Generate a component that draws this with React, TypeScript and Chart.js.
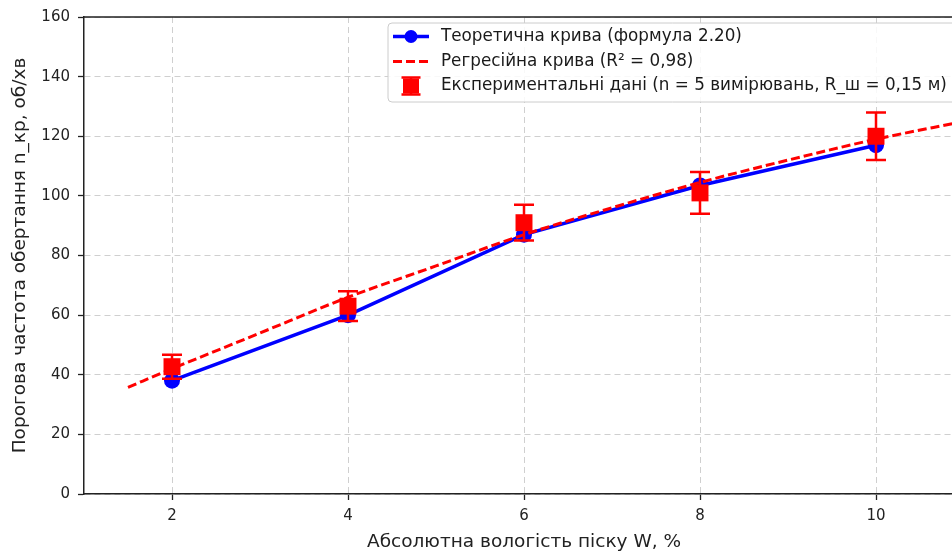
import React, { useEffect, useRef } from "react";
import { Chart, registerables } from "chart.js";

Chart.register(...registerables);

// ---- data ----
const moisture = [2, 4, 6, 8, 10];
const theoretical = [38, 60, 87, 103.5, 117];
const experimental = [42.7, 63, 91, 101, 120];
const experimentalErr = [4, 5, 6, 7, 8];
const regressionX = [1.5, 2, 3, 4, 5, 6, 7, 8, 9, 10, 11];
const regressionY = [35.8, 42, 54, 66, 76.5, 87, 96, 104.5, 112, 119, 125];
const xTicks = [2, 4, 6, 8, 10];
const yTicks = [0, 20, 40, 60, 80, 100, 120, 140, 160];

const labelTheory = "Теоретична крива (формула 2.20)";
const labelRegression = "Регресійна крива (R² = 0,98)";
const labelExperiment = "Експериментальні дані (n = 5 вимірювань, R_ш = 0,15 м)";
const xTitle = "Абсолютна вологість піску W, %";
const yTitle = "Порогова частота обертання n_кр, об/хв";

const FONT = "'DejaVu Sans', sans-serif";
const BLUE = "#0000ff";
const RED = "#ff0000";
const SPINE = "#222222";
const GRID = "#cfcfcf";

const errorBarPlugin = {
  id: "errorBars",
  beforeDatasetDraw(chart: any, args: any) {
    if (args.index !== 0) return;
    const { ctx, scales, chartArea } = chart;
    const xs = scales.x;
    const ys = scales.y;
    ctx.save();
    ctx.beginPath();
    ctx.rect(chartArea.left, chartArea.top, chartArea.right - chartArea.left, chartArea.bottom - chartArea.top);
    ctx.clip();
    ctx.strokeStyle = RED;
    ctx.lineWidth = 2.5;
    for (let i = 0; i < moisture.length; i++) {
      const px = xs.getPixelForValue(moisture[i]);
      const top = ys.getPixelForValue(experimental[i] + experimentalErr[i]);
      const bot = ys.getPixelForValue(experimental[i] - experimentalErr[i]);
      ctx.beginPath();
      ctx.moveTo(px, top);
      ctx.lineTo(px, bot);
      ctx.moveTo(px - 10, top);
      ctx.lineTo(px + 10, top);
      ctx.moveTo(px - 10, bot);
      ctx.lineTo(px + 10, bot);
      ctx.stroke();
    }
    ctx.restore();
  },
};

const framePlugin = {
  id: "frame",
  afterDraw(chart: any) {
    const { ctx, chartArea } = chart;
    ctx.save();
    ctx.strokeStyle = SPINE;
    ctx.lineWidth = 1.5;
    ctx.beginPath();
    ctx.moveTo(chartArea.left, chartArea.top);
    ctx.lineTo(chartArea.right, chartArea.top);
    ctx.lineTo(chartArea.right, chartArea.bottom);
    ctx.stroke();
    ctx.restore();

    // legend
    const bx = 388;
    const by = 23;
    const bh = 79;
    const textX = 441;
    const rows = [36.5, 61.5, 86];
    ctx.save();
    ctx.font = `16.8px ${FONT}`;
    const maxW = Math.max(
      ctx.measureText(labelTheory).width,
      ctx.measureText(labelRegression).width,
      ctx.measureText(labelExperiment).width
    );
    const bw = textX + maxW + 10 - bx;
    const r = 4;
    ctx.beginPath();
    ctx.moveTo(bx + r, by);
    ctx.lineTo(bx + bw - r, by);
    ctx.arcTo(bx + bw, by, bx + bw, by + r, r);
    ctx.lineTo(bx + bw, by + bh - r);
    ctx.arcTo(bx + bw, by + bh, bx + bw - r, by + bh, r);
    ctx.lineTo(bx + r, by + bh);
    ctx.arcTo(bx, by + bh, bx, by + bh - r, r);
    ctx.lineTo(bx, by + r);
    ctx.arcTo(bx, by, bx + r, by, r);
    ctx.closePath();
    ctx.fillStyle = "rgba(255,255,255,0.85)";
    ctx.fill();
    ctx.strokeStyle = "#cccccc";
    ctx.lineWidth = 1;
    ctx.stroke();

    // handle 1: blue line + circle
    ctx.strokeStyle = BLUE;
    ctx.lineWidth = 3.5;
    ctx.beginPath();
    ctx.moveTo(393, rows[0]);
    ctx.lineTo(429, rows[0]);
    ctx.stroke();
    ctx.fillStyle = BLUE;
    ctx.beginPath();
    ctx.arc(411, rows[0], 6.5, 0, Math.PI * 2);
    ctx.fill();

    // handle 2: red dashed
    ctx.strokeStyle = RED;
    ctx.lineWidth = 3;
    ctx.setLineDash([9, 4]);
    ctx.beginPath();
    ctx.moveTo(393, rows[1]);
    ctx.lineTo(429, rows[1]);
    ctx.stroke();
    ctx.setLineDash([]);

    // handle 3: red square with error bar
    ctx.fillStyle = RED;
    ctx.fillRect(403, rows[2] - 7.5, 16, 15);
    ctx.lineWidth = 2.5;
    ctx.beginPath();
    ctx.moveTo(411, rows[2] - 8.5);
    ctx.lineTo(411, rows[2] + 8.5);
    ctx.moveTo(401.5, rows[2] - 8.5);
    ctx.lineTo(420.5, rows[2] - 8.5);
    ctx.moveTo(401.5, rows[2] + 8.5);
    ctx.lineTo(420.5, rows[2] + 8.5);
    ctx.stroke();

    ctx.fillStyle = "#1a1a1a";
    ctx.textBaseline = "middle";
    ctx.textAlign = "left";
    ctx.fillText(labelTheory, textX, rows[0]);
    ctx.fillText(labelRegression, textX, rows[1]);
    ctx.fillText(labelExperiment, textX, rows[2]);
    ctx.restore();
  },
};

export default function App() {
  const ref = useRef<HTMLCanvasElement | null>(null);

  useEffect(() => {
    if (!ref.current) return;
    const gridOpts = {
      color: GRID,
      lineWidth: 1,
      drawTicks: true,
      tickLength: 6,
      tickColor: SPINE,
      tickWidth: 1.3,
      tickBorderDash: [],
    };
    const borderOpts = { display: true, color: SPINE, width: 1.5, dash: [6, 4] };
    const chart = new Chart(ref.current, {
      type: "line",
      data: {
        datasets: [
          {
            label: labelExperiment,
            data: moisture.map((x, i) => ({ x, y: experimental[i] })),
            showLine: false,
            pointStyle: "rect",
            pointRadius: 12,
            pointBorderWidth: 0,
            pointBackgroundColor: RED,
            borderColor: RED,
          },
          {
            label: labelRegression,
            data: regressionX.map((x, i) => ({ x, y: regressionY[i] })),
            borderColor: RED,
            borderWidth: 3,
            borderDash: [9, 4],
            pointRadius: 0,
            cubicInterpolationMode: "monotone",
            fill: false,
          },
          {
            label: labelTheory,
            data: moisture.map((x, i) => ({ x, y: theoretical[i] })),
            borderColor: BLUE,
            borderWidth: 3.5,
            pointRadius: 8,
            pointBorderWidth: 0,
            pointBackgroundColor: BLUE,
            tension: 0,
            fill: false,
          },
        ],
      },
      options: {
        animation: false,
        responsive: false,
        devicePixelRatio: 1,
        layout: { padding: { top: 14, right: 36, left: 0, bottom: 0 } },
        plugins: {
          legend: { display: false },
          tooltip: { enabled: false },
          title: { display: false },
        },
        scales: {
          x: {
            type: "linear",
            min: 1,
            max: 11,
            afterBuildTicks: (s: any) => {
              s.ticks = xTicks.map((v) => ({ value: v }));
            },
            afterFit: (s: any) => {
              s.height = 60;
            },
            grid: gridOpts,
            border: borderOpts,
            ticks: {
              color: "#222",
              font: { family: FONT, size: 15 },
              padding: 7,
              maxRotation: 0,
              callback: (v: any) => String(v),
            },
            title: {
              display: true,
              text: xTitle,
              color: "#222",
              font: { family: FONT, size: 18.5 },
              padding: { top: 0, bottom: 1 },
            },
          },
          y: {
            type: "linear",
            min: 0,
            max: 160,
            afterBuildTicks: (s: any) => {
              s.ticks = yTicks.map((v) => ({ value: v }));
            },
            afterFit: (s: any) => {
              s.width = 84;
            },
            grid: gridOpts,
            border: borderOpts,
            ticks: {
              color: "#222",
              font: { family: FONT, size: 15 },
              padding: 8,
              callback: (v: any) => String(v),
            },
            title: {
              display: true,
              text: yTitle,
              color: "#222",
              font: { family: FONT, size: 18.5 },
              padding: { top: 9, bottom: 0 },
            },
          },
        },
      },
      plugins: [errorBarPlugin, framePlugin],
    } as any);
    return () => chart.destroy();
  }, []);

  return (
    <div style={{ position: "fixed", left: 0, top: 0, width: 1000, height: 554, overflow: "hidden", background: "#fff" }}>
      <canvas ref={ref} width={1000} height={554} style={{ display: "block", width: 1000, height: 554 }} />
    </div>
  );
}
